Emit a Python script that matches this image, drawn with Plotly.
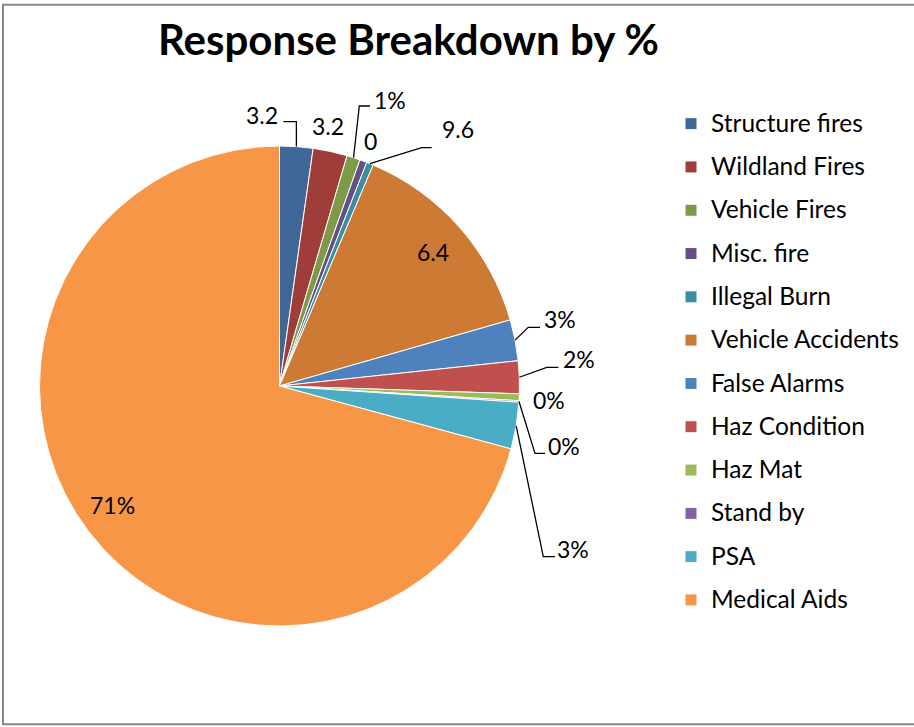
import math
import plotly.graph_objects as go

# Response categories and their share of all responses (%)
categories = [
    "Structure fires", "Wildland Fires", "Vehicle Fires", "Misc. fire",
    "Illegal Burn", "Vehicle Accidents", "False Alarms", "Haz Condition",
    "Haz Mat", "Stand by", "PSA", "Medical Aids",
]
shares = [2.24, 2.30, 0.90, 0.48, 0.46, 14.18, 2.76, 2.20, 0.46, 0.10, 3.14, 70.78]
# Data labels as printed on the chart
label_text = ["3.2", "3.2", "1%", "0", "9.6", "6.4", "3%", "2%", "0%", "0%", "3%", "71%"]

colors = [
    "#3E6797", "#9E3D3A", "#7E9A47", "#664F83", "#3A8DA4", "#CD7B34",
    "#4F81BD", "#C0504D", "#9BBB59", "#8064A2", "#4BACC6", "#F79646",
]

W, H = 914, 727
CX, CY, R = 279.5, 386.0, 240.0  # pie centre and radius in pixels

FONT = "Lato"
LABEL_SIZE = 23
LEGEND_TEXT_SIZE = 24.5


def fx(p):
    return p / W


def fy(p):
    return 1 - p / H


# Label placement: text centre offset from the slice's outer midpoint, and
# optional elbowed leader line (elbow point, end point) as offsets too.
label_layout = [
    {"text": (-34.5, -31.5), "leader": [(0, -25), (-13, -25)]},
    {"text": (-2.2, -25.4), "leader": None},
    {"text": (36.5, -57.7), "leader": [(5.8, -51.7), (16.5, -51.7)]},
    {"text": (7.6, -20.0), "leader": None},
    {"text": (88.0, -34.7), "leader": [(51.7, -16), (61.7, -16)]},
    {"text": (-26.3, 25.0), "leader": None},
    {"text": (45.4, -21.4), "leader": [(13.2, -12.8), (24.9, -12.8)]},
    {"text": (59.2, -18.0), "leader": [(27.4, -9.9), (39.0, -9.9)]},
    {"text": (29.3, 2.7), "leader": None},
    {"text": (45.5, 44.5), "leader": [(16.0, 51.8), (26.0, 51.8)]},
    {"text": (57.3, 123.2), "leader": [(27.1, 130.9), (38.8, 130.9)]},
    {"text": (23.2, -26.8), "leader": None},
]

legend_labels = [
    f'<span style="font-size:{LEGEND_TEXT_SIZE}px;baseline-shift:4px">{c}</span>'
    for c in categories
]

fig = go.Figure(
    go.Pie(
        labels=legend_labels,
        values=shares,
        sort=False,
        direction="clockwise",
        rotation=0,
        textinfo="none",
        hoverinfo="label+percent",
        marker=dict(colors=colors, line=dict(color="white", width=1)),
        domain=dict(x=[fx(CX - R), fx(CX + R)], y=[fy(CY + R), fy(CY - R)]),
    )
)

# Data labels and leader lines, anchored at each slice's outer midpoint
total = sum(shares)
annotations = []
shapes = []
cum = 0.0
for val, txt, lay in zip(shares, label_text, label_layout):
    mid = (cum + val / 2) / total * 2 * math.pi
    cum += val
    ax = CX + R * math.sin(mid)
    ay = CY - R * math.cos(mid)
    tx, ty = ax + lay["text"][0], ay + lay["text"][1]
    annotations.append(dict(
        x=fx(tx), y=fy(ty), xref="paper", yref="paper", text=txt,
        showarrow=False, xanchor="center", yanchor="middle",
        font=dict(family=FONT, size=LABEL_SIZE, color="#000000"),
    ))
    if lay["leader"]:
        pts = [(ax, ay)] + [(ax + dx, ay + dy) for dx, dy in lay["leader"]]
        path = "M " + " L ".join(f"{fx(x)},{fy(y)}" for x, y in pts)
        shapes.append(dict(type="path", path=path, xref="paper", yref="paper",
                           line=dict(color="#000000", width=1.3)))

# Chart-area frame
shapes.append(dict(type="rect", xref="paper", yref="paper",
                   x0=fx(3), x1=fx(918), y0=fy(724.3), y1=fy(4.7),
                   line=dict(color="#868686", width=2), fillcolor="rgba(0,0,0,0)"))

fig.update_layout(
    width=W, height=H,
    margin=dict(l=0, r=0, t=0, b=0, autoexpand=False),
    paper_bgcolor="white", plot_bgcolor="white",
    title=dict(text="<b>Response Breakdown by %</b>", x=fx(408.5), y=fy(40),
               xanchor="center", yanchor="middle", xref="paper", yref="paper",
               font=dict(family=FONT, size=42, color="#000000")),
    showlegend=True,
    legend=dict(x=fx(671), y=fy(97), xanchor="left", yanchor="top",
                font=dict(family=FONT, size=31, color="#000000"),
                bgcolor="rgba(0,0,0,0)", itemclick=False, itemdoubleclick=False),
    annotations=annotations,
    shapes=shapes,
)

fig.write_html("out.html")
